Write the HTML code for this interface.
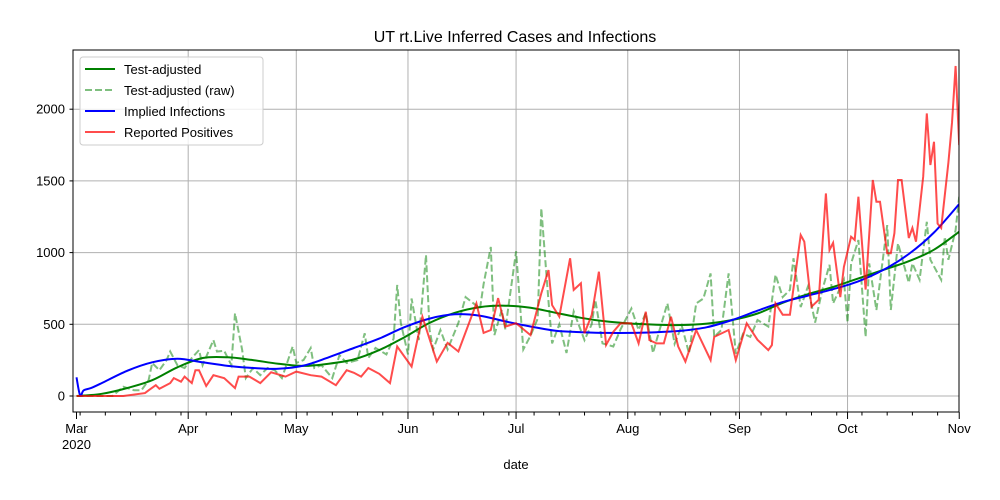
<!DOCTYPE html>
<html><head><meta charset="utf-8"><style>
body{margin:0;background:#fff;}
svg{display:block;font-family:"Liberation Sans","DejaVu Sans",sans-serif;}
</style></head><body>
<svg id="chart" width="1000" height="500">
<rect width="1000" height="500" fill="#fff"/>
<text x="515" y="42" font-size="16" text-anchor="middle">UT rt.Live Inferred Cases and Infections</text>
<g id="grid"></g><g id="series"></g><g id="axes"></g>
<rect x="73" y="50" width="886" height="362" fill="none" stroke="#000" stroke-width="1"/>
<text x="516" y="469" font-size="13" text-anchor="middle">date</text>
<g>
<rect x="80" y="57" width="183" height="88" rx="3" fill="#fff" fill-opacity="0.8" stroke="#ccc"/>
<g><line x1="85" y1="69" x2="115" y2="69" stroke="#008000" stroke-width="2"/><text x="124" y="74" font-size="13">Test-adjusted</text></g>
<g><line x1="85" y1="90" x2="115" y2="90" stroke="#008000" stroke-opacity="0.5" stroke-width="2" stroke-dasharray="7,3"/><text x="124" y="95" font-size="13">Test-adjusted (raw)</text></g>
<g><line x1="85" y1="111" x2="115" y2="111" stroke="#0000ff" stroke-width="2"/><text x="124" y="116" font-size="13">Implied Infections</text></g>
<g><line x1="85" y1="132" x2="115" y2="132" stroke="#ff0000" stroke-opacity="0.7" stroke-width="2"/><text x="124" y="137" font-size="13">Reported Positives</text></g>
</g>
</svg>
<script>
// day offsets from 2020-03-01
const monthLabels=["Mar","Apr","May","Jun","Jul","Aug","Sep","Oct","Nov"];
const monthDays=[0,31,61,92,122,153,184,214,245];
const yTicks=[0,500,1000,1500,2000];
const smoothDays=[0,7,14,21,28,35,42,49,56,63,70,77,84,91,98,105,112,119,126,133,140,147,154,161,168,175,182,189,196,203,210,217,224,231,238,245];
const adjusted=[0,15,55,110,200,265,270,250,225,210,225,255,320,410,510,580,620,630,615,580,545,520,505,497,495,505,530,575,650,710,760,820,880,940,1020,1146];
const implDays=[0,1,2,4,7,14,21,28,35,42,49,56,63,70,77,84,91,98,105,112,119,126,133,140,147,154,161,168,175,182,189,196,203,210,217,224,231,238,245];
const implied=[130,5,40,55,90,175,235,260,235,210,195,190,212,270,335,400,480,540,570,560,520,485,455,445,440,440,445,455,480,530,595,655,700,745,800,880,990,1140,1339];
const rawDays=[0,10,13,16,18,20,21,23,25,26,28,30,32,34,35,38,39,41,43,44,46,47,49,51,53,55,57,60,61,63,65,66,68,71,73,75,78,80,81,83,86,88,89,90,92,93,95,97,98,99,101,103,106,108,110,112,113,115,116,118,119,122,124,126,128,129,131,132,134,136,138,141,143,144,146,149,151,154,156,158,160,161,164,166,168,170,172,174,176,177,179,181,183,185,187,189,192,194,196,198,199,201,203,205,207,209,210,213,214,215,217,219,220,222,225,226,228,231,232,234,236,237,240,241,242,244,245];
const raw=[0,0,65,40,40,110,230,180,250,310,215,195,265,320,215,390,310,315,215,577,320,125,195,145,195,180,125,345,230,250,335,195,215,125,285,230,250,437,265,335,290,400,774,510,290,680,390,983,460,325,460,325,510,690,650,610,780,1040,425,600,465,1010,325,420,540,1309,660,367,500,300,590,390,500,670,367,345,465,610,460,580,300,390,646,365,490,297,646,680,855,412,460,855,295,435,412,530,484,845,690,740,960,620,763,512,740,915,646,810,512,925,1088,412,925,600,1192,600,1065,790,925,810,1215,950,810,1110,950,1157,1390];
const repDays=[0,13,19,20,22,23,26,27,29,30,32,33,34,36,38,41,44,45,48,51,54,58,61,65,68,72,75,77,79,81,84,87,89,93,96,100,103,106,111,113,115,117,119,122,126,129,131,132,134,137,138,140,141,143,145,147,149,151,154,156,158,159,161,163,165,167,169,172,176,177,181,183,186,189,192,193,194,196,198,201,202,204,206,208,209,210,212,213,215,216,217,219,221,222,223,225,226,227,228,229,231,232,233,235,236,237,238,239,240,242,243,244,245];
const reported=[0,0,20,40,75,50,90,125,100,135,90,180,180,70,145,125,55,135,135,90,165,135,170,145,135,75,180,162,135,195,155,90,345,205,553,240,370,310,646,440,460,683,483,508,425,716,878,634,553,960,740,786,437,565,867,356,448,508,508,367,588,390,367,367,553,345,240,460,250,412,460,250,507,392,320,355,646,567,567,1123,1076,623,670,1413,1018,1068,690,900,1111,1088,1390,742,1506,1355,1355,995,995,1135,1506,1506,1102,1172,1076,1530,1971,1611,1773,1202,1172,1628,1906,2301,1750];

const NS="http://www.w3.org/2000/svg";
const X0=76.5,XS=3.603,Y0=396,YS=0.1434;
function xs(d){return X0+d*XS;}
function ys(v){return Y0-v*YS;}
function mk(tag,attrs,parent){const e=document.createElementNS(NS,tag);for(const k in attrs)e.setAttribute(k,attrs[k]);parent.appendChild(e);return e;}
const grid=document.getElementById('grid'),axes=document.getElementById('axes'),series=document.getElementById('series');

yTicks.forEach(v=>{
  const y=ys(v);
  const g=mk('line',{x1:73,x2:959,y1:y,y2:y,stroke:'#b0b0b0','stroke-width':1},grid);
  
  
  mk('line',{x1:69.5,x2:73,y1:y,y2:y,stroke:'#000'},axes);
  const t=mk('text',{x:65,y:y+4.5,'font-size':13,'text-anchor':'end'},axes);
  t.textContent=String(v);
  
  
});
monthDays.forEach((d,i)=>{
  const x=xs(d);
  if(i>0&&i<monthDays.length-1){
    const g=mk('line',{x1:x,x2:x,y1:50,y2:412,stroke:'#b0b0b0','stroke-width':1},grid);
    
    
  }
  mk('line',{x1:x,x2:x,y1:412,y2:419,stroke:'#000'},axes);
  const t=mk('text',{x:x,y:433,'font-size':13,'text-anchor':'middle'},axes);
  t.textContent=monthLabels[i];
  
  
});
const yr=mk('text',{x:xs(0),y:449,'font-size':13,'text-anchor':'middle'},axes);
yr.textContent='2020';


for(let d=1;d<245;d+=7){const x=xs(d);mk('line',{x1:x,x2:x,y1:412,y2:415.5,stroke:'#000'},axes);}

function linePath(days,vals){return days.map((d,i)=>(i?'L':'M')+xs(d).toFixed(1)+','+ys(vals[i]).toFixed(1)).join('');}
function smoothPath(days,vals){
  const p=days.map((d,i)=>[xs(d),ys(vals[i])]);
  let s='M'+p[0][0]+','+p[0][1];
  for(let i=0;i<p.length-1;i++){
    const a=p[Math.max(i-1,0)],b=p[i],c=p[i+1],e=p[Math.min(i+2,p.length-1)];
    s+='C'+(b[0]+(c[0]-a[0])/6).toFixed(1)+','+(b[1]+(c[1]-a[1])/6).toFixed(1)+' '+(c[0]-(e[0]-b[0])/6).toFixed(1)+','+(c[1]-(e[1]-b[1])/6).toFixed(1)+' '+c[0].toFixed(1)+','+c[1].toFixed(1);
  }
  return s;
}
const clip=mk('clipPath',{id:'pc'},document.getElementById('chart'));
mk('rect',{x:73,y:50,width:886,height:362},clip);
series.setAttribute('clip-path','url(#pc)');
const s1=mk('path',{d:smoothPath(smoothDays,adjusted),fill:'none',stroke:'#008000','stroke-width':2},series);


const s2=mk('path',{d:linePath(rawDays,raw),fill:'none',stroke:'#008000','stroke-opacity':0.5,'stroke-width':2,'stroke-dasharray':'7,3'},series);


const s3=mk('path',{d:smoothPath(implDays,implied),fill:'none',stroke:'#0000ff','stroke-width':2},series);


const s4=mk('path',{d:linePath(repDays,reported),fill:'none',stroke:'#ff0000','stroke-opacity':0.7,'stroke-width':2},series);


</script>
</body></html>
